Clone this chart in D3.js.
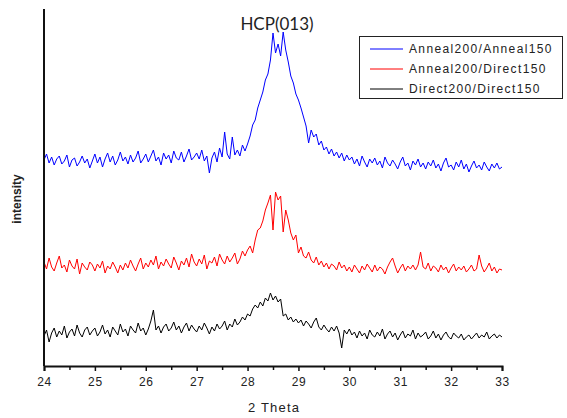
<!DOCTYPE html>
<head>
    <script src="https://d3js.org/d3.v7.min.js"></script>
    <style>
        body { margin: 0; background: #fff; }
        text { font-family: "Liberation Sans", Arial, sans-serif; fill: #222; }
    </style>
</head>

<body>
    <div id="xrd"></div>
</body>

<script>
    const width = 567,
        height = 418;

    // scan grid, 2 theta in degrees
    const thetaStart = 24, thetaEnd = 33, thetaStep = 0.05;
    const xTicks = [24, 25, 26, 27, 28, 29, 30, 31, 32, 33];

    // intensities (arbitrary units, curves already stacked)
    const annealAnneal = [
        206, 212, 203, 209, 201, 207, 210, 202, 205, 211, 199, 206, 208, 200, 204, 210, 203, 207, 198, 205,
        212, 203, 209, 199, 207, 213, 204, 210, 201, 206, 214, 205, 209, 202, 211, 204, 208, 215, 203, 207,
        212, 204, 210, 216, 205, 209, 201, 213, 207, 211, 203, 215, 208, 206, 214, 204, 210, 217, 206, 209,
        213, 207, 216, 205, 210, 193, 208, 214, 204, 218, 209, 234, 212, 207, 229, 211, 216, 210, 221, 215,
        222, 230, 241, 246, 258, 266, 274, 286, 292, 306, 333, 313, 322, 310, 334, 316, 304, 290, 283, 272,
        266, 258, 249, 240, 223, 236, 229, 232, 221, 225, 216, 219, 212, 217, 210, 214, 208, 213, 205, 211,
        206, 209, 202, 207, 200, 210, 204, 199, 207, 203,
        208, 201, 205, 198, 209, 203, 200, 206, 202, 197,
        204, 209, 200, 203, 196, 205, 201, 207, 199, 203,
        197, 204, 200, 206, 198, 202, 195, 203, 208, 199,
        201, 196, 204, 199, 206, 197, 202, 194, 200, 205,
        198, 201, 196, 204, 199, 195, 202, 198, 203, 197, 199
    ];
    const annealDirect = [
        104, 97, 108, 99, 95, 103, 110, 98, 101, 94, 106, 100, 97, 107, 92, 103, 99, 96, 104, 101,
        95, 102, 98, 105, 93, 100, 97, 104, 99, 93, 101, 96, 103, 98, 106, 100, 95, 102, 108, 97,
        103, 99, 106, 101, 110, 97, 104, 100, 107, 102, 98, 109, 103, 96, 105, 101, 108, 99, 112, 104,
        100, 107, 102, 111, 97, 105, 103, 109, 100, 112, 106, 102, 110, 104, 108, 113, 102, 107, 115, 110,
        116, 120, 113, 126, 136, 138, 145, 156, 163, 171, 136, 174, 166, 170, 134, 156, 146, 133, 126, 131,
        113, 119, 110, 108, 114, 106, 103, 109, 101, 105, 99, 103, 97, 102, 100, 96, 104, 98, 101, 95,
        99, 94, 101, 97, 93, 100, 96, 102, 98, 94,
        101, 95, 99, 97, 92, 99, 104, 108, 100, 93,
        98, 102, 95, 100, 97, 101, 96, 101, 114, 99,
        97, 103, 95, 100, 98, 94, 101, 96, 99, 93,
        98, 102, 95, 99, 96, 100, 94, 97, 101, 95,
        97, 111, 100, 94, 98, 103, 95, 99, 93, 97, 96
    ];
    const directDirect = [
        30, 36, 24, 33, 38, 29, 35, 31, 40, 28, 34, 37, 30, 41, 33, 29, 36, 39, 31, 35,
        38, 30, 34, 41, 32, 36, 29, 39, 35, 31, 42, 34, 37, 30, 40, 36, 33, 43, 35, 38,
        31, 37, 45, 56, 36, 40, 33, 39, 42, 35, 38, 44, 36, 40, 33, 39, 43, 35, 41, 37,
        34, 40, 36, 43, 38, 32, 39, 35, 42, 37, 40, 45, 36, 42, 39, 47, 41, 44, 49, 46,
        52, 50, 57, 61, 58, 64, 60, 68, 65, 73, 66, 70, 64, 67, 50, 52, 46, 49, 44, 47,
        43, 46, 40, 45, 42, 38, 44, 48, 39, 36, 41, 37, 34, 39, 35, 40, 33, 18, 36, 32,
        37, 31, 34, 28, 35, 30, 33, 27, 36, 31,
        29, 34, 30, 37, 27, 32, 35, 29, 33, 26,
        31, 35, 28, 32, 30, 36, 27, 33, 29, 31,
        34, 27, 30, 35, 28, 32, 26, 31, 34, 29,
        27, 33, 30, 28, 32, 26, 29, 31, 27, 30,
        33, 28, 31, 29, 34, 27, 30, 32, 28, 31, 29
    ];

    const seriesNames = ["Anneal200/Anneal150", "Anneal200/Direct150", "Direct200/Direct150"];
    const seriesColors = ["#0000ff", "#ff0000", "#000000"];
    const seriesValues = [annealAnneal, annealDirect, directDirect];

    const plotLeft = 44, plotRight = 502, plotTop = 9, plotBottom = 366;

    const x = d3.scaleLinear().domain([thetaStart, thetaEnd]).range([plotLeft, plotRight]);
    const y = d3.scaleLinear().domain([0, 357]).range([plotBottom, plotTop]);

    const svg = d3.select("#xrd")
        .append("svg")
        .attr("width", width)
        .attr("height", height);

    const line = d3.line()
        .x((d, i) => x(thetaStart + i * thetaStep))
        .y(d => y(d));

    svg.selectAll("path.trace").data(seriesValues)
        .join("path")
            .attr("class", "trace")
            .attr("d", line)
            .attr("fill", "none")
            .attr("stroke", (d, i) => seriesColors[i])
            .attr("stroke-width", 1)
            .attr("stroke-linejoin", "round");

    // x axis: major ticks + half-degree minor ticks
    const xAxis = svg.append("g")
        .attr("transform", `translate(0,${plotBottom})`)
        .call(d3.axisBottom(x).tickValues(xTicks).tickSize(5).tickPadding(6).tickFormat(d3.format("d")));
    xAxis.select(".domain").attr("stroke", "#111").attr("stroke-width", 2);
    xAxis.selectAll(".tick line").attr("stroke", "#111").attr("stroke-width", 1.5);
    xAxis.selectAll(".tick text")
        .style("font-family", "'Liberation Sans', Arial, sans-serif")
        .style("font-size", "12px")
        .style("letter-spacing", "0.6px")
        .attr("fill", "#222");

    svg.append("g")
        .attr("transform", `translate(0,${plotBottom})`)
        .call(d3.axisBottom(x).tickValues(xTicks.slice(0, -1).map(d => d + 0.5)).tickSize(4).tickFormat(""))
        .call(g => g.select(".domain").remove())
        .selectAll(".tick line").attr("stroke", "#111").attr("stroke-width", 1.5);

    // y axis, no ticks
    svg.append("line")
        .attr("x1", plotLeft).attr("x2", plotLeft)
        .attr("y1", plotTop).attr("y2", plotBottom)
        .attr("stroke", "#111").attr("stroke-width", 2);

    svg.append("text")
        .attr("x", (plotLeft + plotRight) / 2 + 1)
        .attr("y", 412)
        .attr("text-anchor", "middle")
        .style("font-size", "13px")
        .style("letter-spacing", "1.2px")
        .text("2 Theta");

    svg.append("text")
        .attr("transform", "translate(21,199) rotate(-90)")
        .attr("text-anchor", "middle")
        .style("font-size", "12px")
        .style("font-weight", "bold")
        .text("intensity");

    svg.append("text")
        .attr("x", 277)
        .attr("y", 30)
        .attr("text-anchor", "middle")
        .style("font-family", "Lato, 'Open Sans', sans-serif")
        .style("font-size", "17px")
        .attr("fill", "#111")
        .text("HCP(013)");

    // legend
    const legend = svg.append("g");
    legend.append("rect")
        .attr("x", 359.5).attr("y", 36.5)
        .attr("width", 203).attr("height", 62)
        .attr("fill", "#fff")
        .attr("stroke", "#222").attr("stroke-width", 1);

    legend.selectAll("g.item").data(seriesNames)
        .join("g")
            .attr("class", "item")
            .attr("transform", (d, i) => `translate(0,${49 + i * 20})`)
            .call(sel => {
                sel.append("line")
                    .attr("x1", 370).attr("x2", 403)
                    .attr("stroke", (d, i) => seriesColors[i])
                    .attr("stroke-width", 1);
                sel.append("text")
                    .attr("x", 409)
                    .attr("dy", "0.36em")
                    .style("font-size", "12px")
                    .style("letter-spacing", "1.35px")
                    .text(d => d);
            });
</script>
</html>
